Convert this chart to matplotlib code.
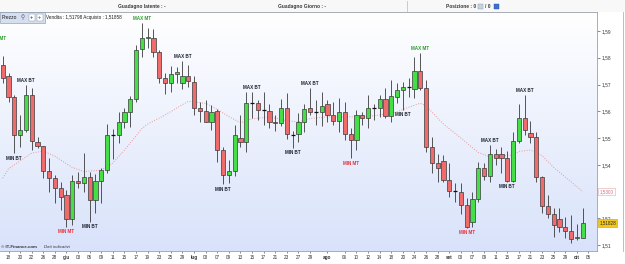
import matplotlib
matplotlib.use("Agg")
import matplotlib.pyplot as plt
import numpy as np
import pandas as pd
from matplotlib.patches import Rectangle
from matplotlib.colors import LinearSegmentedColormap
from matplotlib.lines import Line2D
import matplotlib.transforms as mtransforms

plt.rcParams['font.family'] = ['Liberation Sans', 'DejaVu Sans']

# ---------------- data ----------------
dates = pd.bdate_range("2015-05-15", "2015-10-05")

opens = [1.5773, 1.5733, 1.5652, 1.5511, 1.5529, 1.5659, 1.5484, 1.5470, 1.5378, 1.5350,
         1.5315, 1.5287, 1.5196, 1.5339, 1.5331, 1.5356, 1.5267, 1.5339, 1.5379, 1.5511,
         1.5511, 1.5561, 1.5596, 1.5646, 1.5832, 1.5875, 1.5873, 1.5820, 1.5726, 1.5705,
         1.5741, 1.5707, 1.5731, 1.5711, 1.5614, 1.5602, 1.5561, 1.5601, 1.5455, 1.5362,
         1.5377, 1.5499, 1.5486, 1.5630, 1.5632, 1.5605, 1.5602, 1.5559, 1.5555, 1.5611,
         1.5514, 1.5514, 1.5559, 1.5611, 1.5599, 1.5596, 1.5626, 1.5586, 1.5565, 1.5596,
         1.5514, 1.5491, 1.5586, 1.5574, 1.5614, 1.5611, 1.5645, 1.5582, 1.5655, 1.5680,
         1.5692, 1.5683, 1.5751, 1.5688, 1.5468, 1.5405, 1.5414, 1.5343, 1.5302, 1.5297,
         1.5250, 1.5185, 1.5272, 1.5389, 1.5359, 1.5439, 1.5439, 1.5424, 1.5339, 1.5489,
         1.5576, 1.5518, 1.5505, 1.5356, 1.5247, 1.5215, 1.5196, 1.5169, 1.5153, 1.5125,
         1.5128]
highs = [1.5808, 1.5742, 1.5661, 1.5586, 1.5698, 1.5686, 1.5505, 1.5472, 1.5424, 1.5362,
         1.5337, 1.5306, 1.5362, 1.5374, 1.5443, 1.5374, 1.5364, 1.5387, 1.5551, 1.5535,
         1.5599, 1.5611, 1.5658, 1.5848, 1.5929, 1.5910, 1.5908, 1.5829, 1.5742, 1.5771,
         1.5767, 1.5788, 1.5773, 1.5732, 1.5634, 1.5642, 1.5624, 1.5607, 1.5468, 1.5418,
         1.5549, 1.5586, 1.5673, 1.5673, 1.5642, 1.5671, 1.5626, 1.5586, 1.5646, 1.5667,
         1.5526, 1.5592, 1.5626, 1.5688, 1.5642, 1.5673, 1.5642, 1.5634, 1.5649, 1.5634,
         1.5536, 1.5605, 1.5596, 1.5661, 1.5626, 1.5661, 1.5688, 1.5717, 1.5705, 1.5711,
         1.5723, 1.5801, 1.5817, 1.5717, 1.5505, 1.5439, 1.5437, 1.5405, 1.5331, 1.5331,
         1.5275, 1.5297, 1.5412, 1.5405, 1.5474, 1.5459, 1.5468, 1.5452, 1.5524, 1.5626,
         1.5661, 1.5564, 1.5524, 1.5358, 1.5287, 1.5237, 1.5237, 1.5206, 1.5212, 1.5178,
         1.5237]
lows = [1.5705, 1.5634, 1.5443, 1.5468, 1.5524, 1.5455, 1.5462, 1.5352, 1.5300, 1.5256,
        1.5231, 1.5169, 1.5175, 1.5312, 1.5300, 1.5187, 1.5219, 1.5256, 1.5368, 1.5420,
        1.5480, 1.5536, 1.5543, 1.5636, 1.5804, 1.5835, 1.5804, 1.5705, 1.5663, 1.5673,
        1.5705, 1.5683, 1.5692, 1.5586, 1.5561, 1.5559, 1.5530, 1.5412, 1.5327, 1.5331,
        1.5359, 1.5468, 1.5449, 1.5574, 1.5567, 1.5549, 1.5536, 1.5526, 1.5546, 1.5496,
        1.5464, 1.5486, 1.5524, 1.5586, 1.5549, 1.5546, 1.5561, 1.5549, 1.5524, 1.5493,
        1.5424, 1.5455, 1.5549, 1.5536, 1.5567, 1.5580, 1.5574, 1.5559, 1.5630, 1.5605,
        1.5655, 1.5648, 1.5680, 1.5449, 1.5368, 1.5337, 1.5337, 1.5281, 1.5262, 1.5215,
        1.5163, 1.5169, 1.5262, 1.5343, 1.5337, 1.5399, 1.5368, 1.5337, 1.5337, 1.5480,
        1.5511, 1.5480, 1.5337, 1.5219, 1.5200, 1.5131, 1.5150, 1.5125, 1.5107, 1.5119,
        1.5125]
closes = [1.5726, 1.5652, 1.5511, 1.5529, 1.5659, 1.5490, 1.5470, 1.5378, 1.5350, 1.5315,
          1.5281, 1.5196, 1.5339, 1.5331, 1.5356, 1.5267, 1.5339, 1.5379, 1.5511, 1.5512,
          1.5559, 1.5596, 1.5646, 1.5829, 1.5875, 1.5879, 1.5820, 1.5726, 1.5705, 1.5741,
          1.5748, 1.5731, 1.5713, 1.5614, 1.5602, 1.5561, 1.5599, 1.5455, 1.5362, 1.5377,
          1.5511, 1.5486, 1.5630, 1.5632, 1.5605, 1.5602, 1.5559, 1.5555, 1.5611, 1.5514,
          1.5512, 1.5559, 1.5609, 1.5599, 1.5596, 1.5621, 1.5586, 1.5565, 1.5596, 1.5514,
          1.5491, 1.5586, 1.5574, 1.5614, 1.5611, 1.5645, 1.5582, 1.5658, 1.5680, 1.5692,
          1.5693, 1.5751, 1.5688, 1.5468, 1.5405, 1.5389, 1.5343, 1.5302, 1.5300, 1.5250,
          1.5169, 1.5272, 1.5389, 1.5359, 1.5439, 1.5427, 1.5424, 1.5339, 1.5489, 1.5576,
          1.5530, 1.5503, 1.5356, 1.5247, 1.5215, 1.5175, 1.5169, 1.5153, 1.5123, 1.5131,
          1.51828]

# moving average (sampled at candle indices)
ma_idx = [0, 1, 5, 7, 9, 12, 14, 17, 19, 21, 24, 25, 28, 31, 32, 35, 37, 39, 41, 43, 46,
          49, 51, 53, 56, 62, 65, 68, 70, 72, 73, 76, 79, 82, 84, 88, 89, 91, 93, 95, 98, 100]
ma_vals = [1.5350, 1.5385, 1.5444, 1.5451, 1.5432, 1.5390, 1.5375, 1.5380, 1.5407, 1.5455,
           1.5535, 1.5552, 1.5586, 1.5625, 1.5637, 1.5630, 1.5607, 1.5580, 1.5557, 1.5572,
           1.5579, 1.5565, 1.5560, 1.5573, 1.5579, 1.5579, 1.5586, 1.5598, 1.5615, 1.5630,
           1.5620, 1.5552, 1.5500, 1.5446, 1.5430, 1.5437, 1.5450, 1.5455, 1.5434, 1.5390,
           1.5336, 1.5300]

# annotations: candle index, text  (index -1 is the off-screen previous candle)
ann_idx = [-1, 4, 2, 11, 15, 24, 31, 38, 43, 50, 53, 60, 69, 72, 80, 84, 87, 90]
ann_text = ["MAX MT", "MAX BT", "MIN BT", "MIN MT", "MIN BT", "MAX MT", "MAX BT", "MIN BT",
            "MAX BT", "MIN BT", "MAX BT", "MIN MT", "MIN BT", "MAX MT", "MIN MT", "MAX BT",
            "MIN BT", "MAX BT"]
offscreen_high = 1.5853

tick_dates = ["2015-05-18", "2015-05-20", "2015-05-22", "2015-05-26", "2015-05-28",
              "2015-06-01", "2015-06-03", "2015-06-05", "2015-06-09", "2015-06-11",
              "2015-06-15", "2015-06-17", "2015-06-19", "2015-06-23", "2015-06-25",
              "2015-06-29", "2015-07-01", "2015-07-03", "2015-07-07", "2015-07-09",
              "2015-07-13", "2015-07-15", "2015-07-17", "2015-07-21", "2015-07-23",
              "2015-07-27", "2015-07-29", "2015-08-03", "2015-08-06", "2015-08-10",
              "2015-08-12", "2015-08-14", "2015-08-18", "2015-08-20", "2015-08-24",
              "2015-08-26", "2015-08-28", "2015-09-01", "2015-09-03", "2015-09-07",
              "2015-09-09", "2015-09-11", "2015-09-15", "2015-09-17", "2015-09-21",
              "2015-09-23", "2015-09-25", "2015-09-29", "2015-10-01", "2015-10-05"]
month_names = {6: "giu", 7: "lug", 8: "ago", 9: "set", 10: "ott"}
month_start_dates = ["2015-06-01", "2015-07-01", "2015-08-03", "2015-09-01", "2015-10-01"]

y_ticks = [1.51, 1.52, 1.54, 1.55, 1.56, 1.57, 1.58, 1.59]
bid, ask = 1.51798, 1.51858

# ---------------- figure ----------------
W, H = 625, 264
fig = plt.figure(figsize=(W / 100, H / 100), dpi=100)
fig.patch.set_facecolor('white')

def fx(px):
    return px / W

def fy(py):
    return 1 - py / H

ax = fig.add_axes([0, fy(251), fx(597), (251 - 12) / H])
x0, x1 = -0.466, 102.47
y0, y1 = 1.50778, 1.59710
ax.set_xlim(x0, x1)
ax.set_ylim(y0, y1)

# background gradient
cmap = LinearSegmentedColormap.from_list('bg', ['#ffffff', '#d8e2fa'])
ax.imshow(np.linspace(0, 1, 256).reshape(-1, 1), aspect='auto', cmap=cmap,
          extent=[x0, x1, y0, y1], origin='upper', zorder=0)

green = '#46de46'
red = '#f06c6c'
bw = 0.72
for i, (o, h, l, c) in enumerate(zip(opens, highs, lows, closes)):
    ax.vlines(i, l, h, color='#3a3a3a', lw=0.6, zorder=2)
    if abs(c - o) < 0.00035:
        ax.hlines((o + c) / 2, i - bw / 2, i + bw / 2, color='#111111', lw=0.9, zorder=3)
    else:
        fc = green if c > o else red
        ax.add_patch(Rectangle((i - bw / 2, min(o, c)), bw, abs(c - o), facecolor=fc,
                               edgecolor='#3a3a3a', lw=0.5, zorder=3))

ax.plot(ma_idx, ma_vals, linestyle=(0, (1, 1.6)), color='#e79a9a', lw=0.7, zorder=1.5)

# annotations
for idx, txt in zip(ann_idx, ann_text):
    is_max = txt.startswith("MAX")
    if idx < 0:
        val = offscreen_high
    else:
        val = highs[idx] if is_max else lows[idx]
    if txt.endswith("MT"):
        col = '#2f9e2f' if is_max else '#e8323c'
    else:
        col = '#1f2430'
    ax.annotate(txt, (idx, val), xytext=(0, 1.6 if is_max else -1.6),
                textcoords='offset points', ha='center',
                va='bottom' if is_max else 'top', fontsize=3.3, fontweight='bold',
                color=col, zorder=5, annotation_clip=False, clip_on=True)

# axes styling
ax.spines['left'].set_visible(False)
for s in ['top', 'bottom', 'right']:
    ax.spines[s].set_color('#9aa0aa')
    ax.spines[s].set_linewidth(0.6)
ax.yaxis.tick_right()
ax.set_yticks(y_ticks)
ax.set_yticklabels([f"{v:.2f}".replace('.', ',') for v in y_ticks])
ax.tick_params(axis='y', labelsize=3.4, length=2, width=0.4, pad=1.2, colors='#333333')

tick_pos = [dates.get_loc(pd.Timestamp(d)) for d in tick_dates]
tick_lab = []
for d in tick_dates:
    t = pd.Timestamp(d)
    tick_lab.append(month_names[t.month] if d in month_start_dates else f"{t.day:02d}")
ax.set_xticks(tick_pos)
ax.set_xticklabels(tick_lab)
ax.tick_params(axis='x', labelsize=3.3, length=1.5, width=0.4, pad=1.5, colors='#333333')
for lab in ax.get_xticklabels():
    if lab.get_text() in month_names.values():
        lab.set_fontweight('bold')

# value boxes on right axis
trans = mtransforms.blended_transform_factory(ax.transAxes, ax.transData)
ax.text(1.004, ma_vals[-1], f"{ma_vals[-1]:.4f}".replace('.', ','), transform=trans,
        fontsize=3.3, color='#d06a78', va='center', ha='left', clip_on=False,
        bbox=dict(boxstyle='square,pad=0.25', fc='white', ec='#e3a7b0', lw=0.4))
ax.text(1.004, closes[-1], f"{closes[-1]:.5f}".replace('.', ','), transform=trans,
        fontsize=3.3, color='#222222', va='center', ha='left', clip_on=False,
        bbox=dict(boxstyle='square,pad=0.25', fc='#f2c81c', ec='#c9a000', lw=0.4))

# ---------------- header and overlays ----------------
fig.patches.append(Rectangle((0, fy(11.5)), 1, 11.5 / H, transform=fig.transFigure,
                             facecolor='#f8f8f8', edgecolor='none', zorder=0))
fig.lines.append(Line2D([fx(407), fx(407)], [fy(1), fy(11)], transform=fig.transFigure,
                        color='#b8b8b8', lw=0.5))
hdr = dict(fontsize=3.5, fontweight='bold', color='#3a3a3a', va='center')
fig.text(fx(142), fy(6.5), "Guadagno latente : -", ha='center', **hdr)
fig.text(fx(302), fy(6.5), "Guadagno Giorno : -", ha='center', **hdr)
fig.text(fx(446), fy(6.5), "Posizione : 0", ha='left', **hdr)
fig.patches.append(Rectangle((fx(478), fy(9)), 5 / W, 5 / H, transform=fig.transFigure,
                             facecolor='#c9d3df', edgecolor='#8895a5', lw=0.3))
fig.text(fx(485), fy(6.5), "/ 0", ha='left', **hdr)
fig.patches.append(Rectangle((fx(494), fy(9)), 5 / W, 5 / H, transform=fig.transFigure,
                             facecolor='#3d6fd0', edgecolor='#2a4fa0', lw=0.3))

# Prezzo toolbar box
fig.patches.append(Rectangle((0, fy(22.5)), 45 / W, 10.5 / H, transform=fig.transFigure,
                             facecolor='#d5dff0', edgecolor='#8090a8', lw=0.4, zorder=5))
fig.text(fx(1.5), fy(17.3), "Prezzo", fontsize=3.5, color='#1a1a1a', va='center', ha='left',
         zorder=6)
fig.text(fx(20.5), fy(17.3), "⚲", fontsize=4, color='#555555', va='center', ha='left',
         family='DejaVu Sans', zorder=6)
for px, col in [(28.5, '#e03030'), (36.5, '#30b030')]:
    fig.patches.append(Rectangle((fx(px), fy(21)), 6 / W, 7 / H, transform=fig.transFigure,
                                 facecolor='white', edgecolor='#8090a8', lw=0.3, zorder=6))
    fig.text(fx(px + 3), fy(17.4), "+", fontsize=4, fontweight='bold', color=col,
             va='center', ha='center', zorder=7)
fig.text(fx(46), fy(17.3),
         f"Vendita : {bid:.5f}".replace('.', ',') + f" Acquisto : {ask:.5f}".replace('.', ','),
         fontsize=3.3, color='#1a1a1a', va='center', ha='left')

# copyright
fig.text(fx(1), fy(247), "© IT-Finance.com", fontsize=3.2, fontweight='bold',
         color='#333333', va='center', ha='left')
fig.text(fx(44), fy(247), "Dati indicativi", fontsize=3.2, style='italic',
         color='#333333', va='center', ha='left')

# right border
fig.lines.append(Line2D([fx(622.5), fx(622.5)], [fy(12), fy(251)], transform=fig.transFigure,
                        color='#b0b4bc', lw=0.6))

fig.savefig("out.png", dpi=100, facecolor='white')
